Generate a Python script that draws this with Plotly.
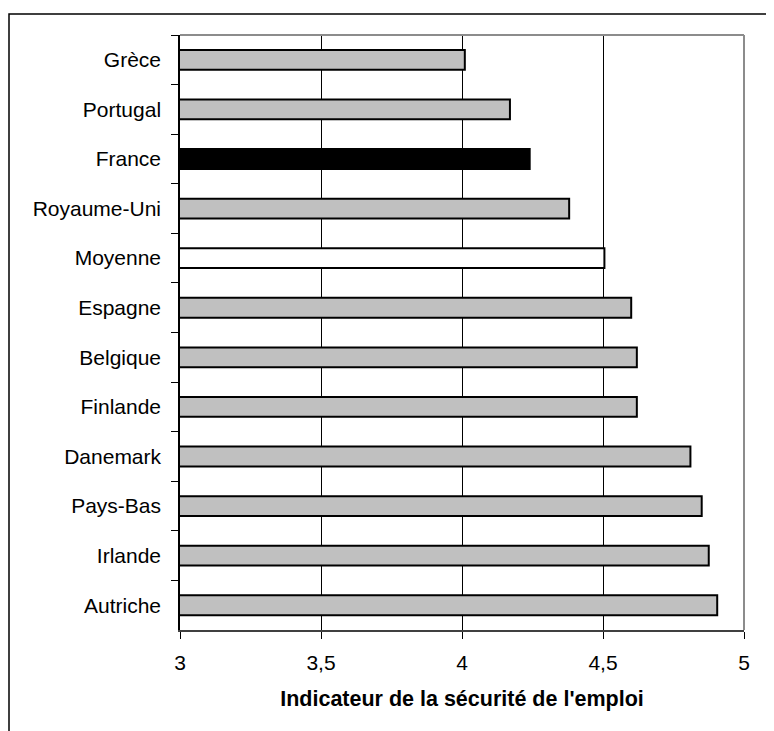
import plotly.graph_objects as go

countries = ["Grèce", "Portugal", "France", "Royaume-Uni", "Moyenne", "Espagne",
             "Belgique", "Finlande", "Danemark", "Pays-Bas", "Irlande", "Autriche"]
values = [4.01, 4.17, 4.24, 4.38, 4.505, 4.60, 4.62, 4.62, 4.81, 4.85, 4.875, 4.905]
fill_colors = ["#c0c0c0", "#c0c0c0", "#000000", "#c0c0c0", "#ffffff", "#c0c0c0",
               "#c0c0c0", "#c0c0c0", "#c0c0c0", "#c0c0c0", "#c0c0c0", "#c0c0c0"]
x_tickvals = [3, 3.5, 4, 4.5, 5]
x_ticktext = ["3", "3,5", "4", "4,5", "5"]
x_title = "Indicateur de la sécurité de l'emploi"

# page body has an 8px default margin, so the figure is sized/offset to compensate
W, H = 766, 723
L, R, T, B = 172, 30, 27, 101
pw, ph = W - L - R, H - T - B

fig = go.Figure(go.Bar(
    x=values, y=countries, orientation="h", base=0,
    width=0.4,
    marker=dict(color=fill_colors, line=dict(color="#000000", width=2)),
    hoverinfo="x+y",
))

font = "Liberation Sans, Arial, sans-serif"

fig.update_layout(
    width=W, height=H,
    margin=dict(l=L, r=R, t=T, b=B, pad=0),
    paper_bgcolor="white", plot_bgcolor="white",
    showlegend=False,
    font=dict(family=font, size=21, color="black"),
    xaxis=dict(
        range=[3, 5], tickvals=x_tickvals, ticktext=x_ticktext,
        showgrid=True, gridcolor="#000000", gridwidth=1,
        showline=True, linecolor="#404040", linewidth=2,
        ticks="outside", ticklen=7, tickwidth=1, tickcolor="#000000",
        tickfont=dict(family=font, size=21, color="black"),
        ticklabelstandoff=6,
        zeroline=False,
        title=dict(text="<b>" + x_title + "</b>", standoff=18,
                   font=dict(family=font, size=21.5, color="black")),
    ),
    yaxis=dict(
        autorange="reversed", type="category",
        showgrid=False, showline=True, linecolor="#000000", linewidth=1.5,
        ticks="outside", tickson="boundaries", ticklen=7, tickwidth=1, tickcolor="#000000",
        tickfont=dict(family=font, size=21, color="black"),
        ticklabelstandoff=13,
        zeroline=False,
    ),
    shapes=[
        # plot-area top and right border (gray)
        dict(type="line", xref="paper", yref="paper", x0=0, x1=1, y0=1, y1=1,
             line=dict(color="#8c8c8c", width=2), layer="above"),
        dict(type="line", xref="paper", yref="paper", x0=1, x1=1, y0=0, y1=1,
             line=dict(color="#8c8c8c", width=2), layer="above"),
        # outer chart border (extends beyond the visible frame at right/bottom)
        dict(type="rect", xref="paper", yref="paper",
             x0=(1 - L) / pw, x1=(W + 10 - L) / pw,
             y0=-(H + 10 - (T + ph)) / ph, y1=(T + ph - 6) / ph,
             line=dict(color="#000000", width=1.5), fillcolor="rgba(0,0,0,0)", layer="above"),
    ],
)

fig.write_html("out.html")
